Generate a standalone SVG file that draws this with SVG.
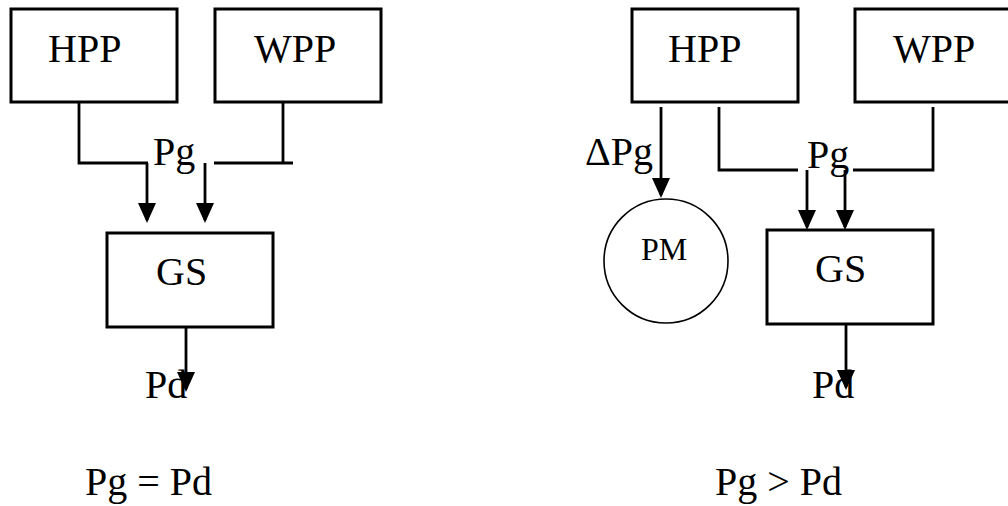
<svg xmlns="http://www.w3.org/2000/svg" width="1008" height="506" viewBox="0 0 1008 506">
  <defs>
    <marker id="arr" markerUnits="userSpaceOnUse" markerWidth="22" markerHeight="20" viewBox="0 0 22 20" refX="17" refY="9" orient="auto">
      <path d="M0,0 L20,9 L0,18 Z" fill="#000"/>
    </marker>
    <style>
      .box { fill: #fff; stroke: #000; stroke-width: 3; }
      .circ { fill: #fff; stroke: #000; stroke-width: 1.6; }
      .ln { fill: none; stroke: #000; stroke-width: 2.8; }
      .ar { fill: none; stroke: #000; stroke-width: 2.8; marker-end: url(#arr); }
      text { font-family: "Liberation Serif", "Times New Roman", serif; fill: #000; font-size: 40px; }
      .sm { font-size: 32px; }
    </style>
  </defs>
  <rect width="1008" height="506" fill="#fff"/>

  <!-- Left diagram -->
  <g id="L-HPP"><rect class="box" x="11" y="9" width="166" height="93"/><text x="48" y="62">HPP</text></g>
  <g id="L-WPP"><rect class="box" x="215" y="9" width="166" height="93"/><text x="254" y="62">WPP</text></g>
  <g id="L-GS"><rect class="box" x="107" y="233" width="166" height="94"/><text x="156" y="285">GS</text></g>

  <!-- Right diagram -->
  <g id="R-HPP"><rect class="box" x="632" y="9" width="166" height="93"/><text x="668" y="62">HPP</text></g>
  <g id="R-WPP"><rect class="box" x="855" y="9" width="166" height="93"/><text x="893" y="62">WPP</text></g>
  <g id="R-PM"><circle class="circ" cx="666" cy="261" r="62"/><text class="sm" x="641" y="260">PM</text></g>
  <g id="R-GS"><rect class="box" x="767" y="230" width="166" height="94"/><text x="815" y="282">GS</text></g>

  <g id="connectors">
    <!-- left -->
    <polyline class="ln" points="79,102 79,163 148,163"/>
    <polyline class="ln" points="214,163 293,163"/>
    <line class="ln" x1="283" y1="102" x2="283" y2="163"/>
    <line class="ar" x1="147" y1="163" x2="147" y2="220"/>
    <line class="ar" x1="205" y1="163" x2="205" y2="220"/>
    <line class="ar" x1="186" y1="327" x2="186" y2="389"/>
    <!-- right -->
    <line class="ar" x1="661" y1="107" x2="661" y2="195"/>
    <polyline class="ln" points="719,107 719,170 798,170"/>
    <polyline class="ln" points="853,170 933,170 933,107"/>
    <line class="ar" x1="807" y1="170" x2="807" y2="227"/>
    <line class="ar" x1="845" y1="170" x2="845" y2="227"/>
    <line class="ar" x1="846" y1="324" x2="846" y2="387"/>
  </g>

  <g id="labels">
    <text x="153" y="165">Pg</text>
    <text x="145" y="398">Pd</text>
    <text x="85" y="495">Pg = Pd</text>
    <text x="585" y="165">ΔPg</text>
    <text x="807" y="168">Pg</text>
    <text x="812" y="398">Pd</text>
    <text x="715" y="495">Pg &gt; Pd</text>
  </g>
</svg>
